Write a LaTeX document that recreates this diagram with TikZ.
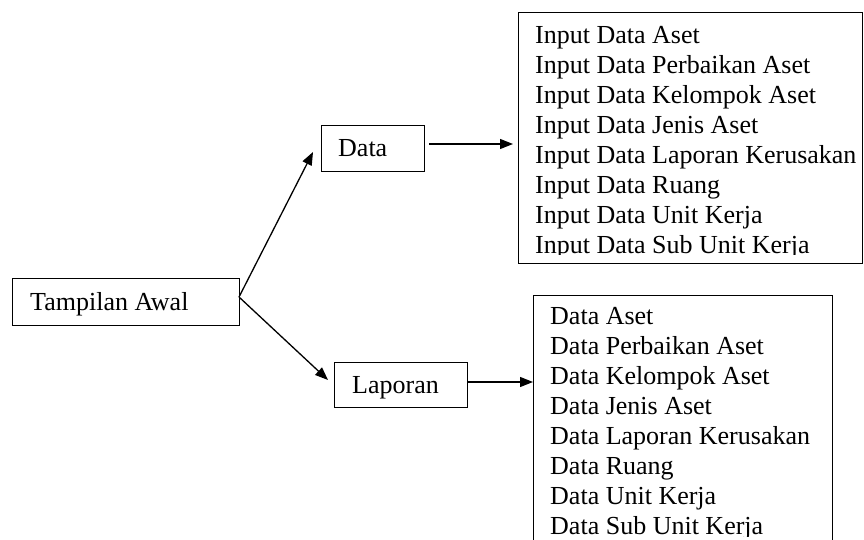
\documentclass[tikz,border=0pt]{standalone}
\usepackage{fontspec}
\setmainfont{Liberation Serif}
\usetikzlibrary{arrows.meta}
\begin{document}
\begin{tikzpicture}[x=1pt,y=-1pt,
  box/.style={draw=black, line width=1.3pt, inner sep=0pt, anchor=north west},
  txt/.style={anchor=base west, inner sep=0pt, font=\fontsize{26}{30}\selectfont},
  arr/.style={line width=1.3pt, -{Triangle[length=13pt,width=10pt]}}]
\useasboundingbox (0,0) rectangle (864,539);
\clip (0,0) rectangle (864,539);
% boxes
\node[box, minimum width=227pt, minimum height=47pt] (awal) at (12,278) {};
\node[box, minimum width=103pt, minimum height=46pt] (data) at (321,125) {};
\node[box, minimum width=133pt, minimum height=45pt] (lap) at (334,362) {};
\node[box, minimum width=344pt, minimum height=251pt] (inlist) at (518,12) {};
\node[box, minimum width=299pt, minimum height=270pt] (dlist) at (533,295) {};
% labels
\node[txt] (awalt) at (30,310) {Tampilan Awal};
\node[txt] (datat) at (338,156.5) {Data};
\node[txt] (lapt) at (352,393) {Laporan};
\begin{scope}
\clip (518,12) rectangle (862,254);
\foreach \t [count=\i] in {Input Data Aset, Input Data Perbaikan Aset, Input Data Kelompok Aset, Input Data Jenis Aset, Input Data Laporan Kerusakan, Input Data Ruang, Input Data Unit Kerja, Input Data Sub Unit Kerja}
  \node[txt] (in\i) at (535,{13+30*\i}) {\t};
\end{scope}
\begin{scope}
\clip (533,295) rectangle (832,536.5);
\foreach \t [count=\i] in {Data Aset, Data Perbaikan Aset, Data Kelompok Aset, Data Jenis Aset, Data Laporan Kerusakan, Data Ruang, Data Unit Kerja, Data Sub Unit Kerja}
  \node[txt] (dl\i) at (550,{294+30*\i}) {\t};
\end{scope}
% connectors
\coordinate (v) at (239,297);
\coordinate (tipD) at (313,152);
\coordinate (tipL) at (328,380);
\coordinate (dOut) at (429,144);
\coordinate (dIn) at (513,144);
\coordinate (lOut) at (467,382);
\coordinate (lIn) at (533,382);
\draw[arr] (v) -- (tipD);
\draw[arr] (v) -- (tipL);
\draw[arr] (dOut) -- (dIn);
\draw[arr] (lOut) -- (lIn);
\end{tikzpicture}
\end{document}
